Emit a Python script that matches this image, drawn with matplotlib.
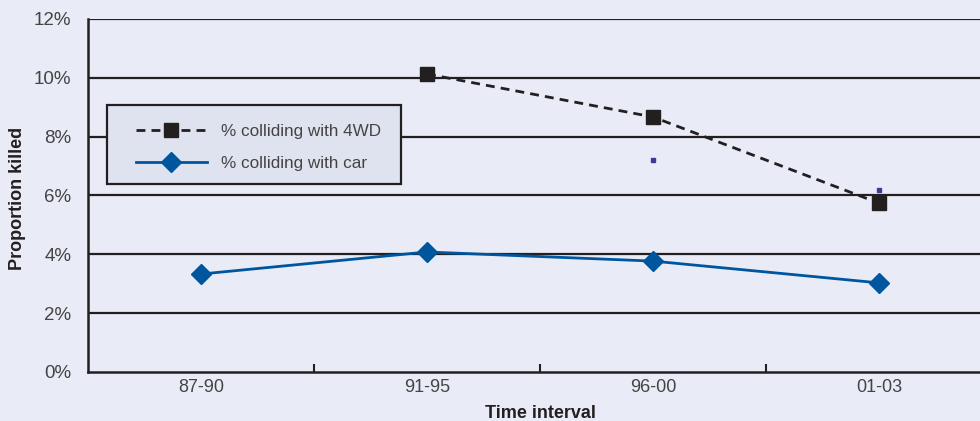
import matplotlib
matplotlib.use("Agg")
import matplotlib.pyplot as plt
import numpy as np
from matplotlib.patches import Rectangle
from matplotlib import font_manager

names = {f.name for f in font_manager.fontManager.ttflist}
fam = "Liberation Sans Narrow" if "Liberation Sans Narrow" in names else "Liberation Sans"
plt.rcParams['font.family'] = [fam, 'DejaVu Sans']

categories = ["87-90", "91-95", "96-00", "01-03"]
pct_4wd = [np.nan, 10.13, 8.67, 5.74]
pct_car = [3.33, 4.08, 3.77, 3.03]
stray_marks = [np.nan, np.nan, 7.2, 6.2]
yticks = [0, 2, 4, 6, 8, 10, 12]
ytick_labels = ["0%", "2%", "4%", "6%", "8%", "10%", "12%"]

W, H = 980, 421
bg = "#e9ecf6"
fig = plt.figure(figsize=(9.8, 4.21), dpi=100, facecolor=bg)
ax = fig.add_axes([88/W, 1 - 372/H, (992-88)/W, (372-19)/H])
ax.set_facecolor(bg)

x = np.arange(len(categories))
ax.plot(x, pct_4wd, color="#231f20", linestyle=(0, (3.2, 2.2)), lw=2.0,
        marker="s", markersize=10, markerfacecolor="#231f20",
        markeredgecolor="#231f20", label="% colliding with 4WD", zorder=4)
ax.plot(x, pct_car, color="#00559f", lw=2.0, marker="D", markersize=10,
        markerfacecolor="#00559f", markeredgecolor="#00559f",
        label="% colliding with car", zorder=4)
ax.plot(x, stray_marks, linestyle="none", marker="s", markersize=2.2,
        color="#3a3a9a", zorder=3)

ax.set_xlim(-0.5, 3.5)
ax.set_ylim(0, 12)
ax.set_yticks(yticks)
ax.set_yticklabels(ytick_labels)
ax.set_xticks(x)
ax.set_xticklabels(categories)
ax.set_xticks([0.5, 1.5, 2.5], minor=True)
ax.tick_params(axis="x", which="major", length=0, pad=5, labelsize=13)
ax.tick_params(axis="x", which="minor", length=6, width=1.5, direction="in", color="#231f20")
ax.tick_params(axis="y", length=0, pad=12, labelsize=13.5)
for t in ax.get_xticklabels() + ax.get_yticklabels():
    t.set_color("#444444")

for v in yticks[1:]:
    ax.axhline(v, color="#231f20", lw=1.6, zorder=1)

for s in ["top", "right"]:
    ax.spines[s].set_visible(False)
for s in ["left", "bottom"]:
    ax.spines[s].set_color("#231f20")
    ax.spines[s].set_linewidth(1.8)

fig.text(18/W, 1 - 198/H, "Proportion killed", rotation=90, fontsize=13,
         fontweight="bold", ha="center", va="center", color="#231f20")
fig.text(540/W, 1 - 413/H, "Time interval", fontsize=13, fontweight="bold",
         ha="center", va="center", color="#231f20")

# legend frame drawn as a patch
frame = Rectangle((107/W, 1 - 184/H), (401-107)/W, (184-105)/H,
                  transform=fig.transFigure, facecolor="#dfe3f0",
                  edgecolor="#231f20", lw=1.6, zorder=5)
fig.add_artist(frame)

leg = fig.legend(*ax.get_legend_handles_labels(), loc="upper left",
                 bbox_to_anchor=(136/W, 1 - 124/H), bbox_transform=fig.transFigure,
                 frameon=False, fontsize=12.3, handlelength=4.15,
                 borderpad=0, labelspacing=0.97, handletextpad=0.8, borderaxespad=0)
for t in leg.get_texts():
    t.set_color("#444444")
leg.set_zorder(6)

fig.savefig("out.png", dpi=100, facecolor=bg)
